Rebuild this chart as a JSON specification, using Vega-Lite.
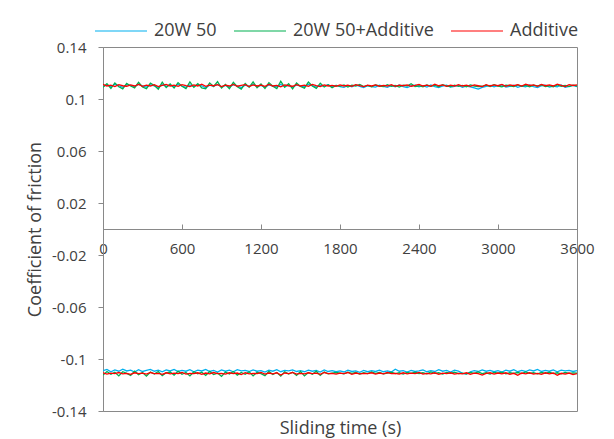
{
  "$schema": "https://vega.github.io/schema/vega-lite/v6.json",
  "width": 474,
  "height": 364,
  "autosize": {"type": "none"},
  "padding": {"left": 103, "top": 47, "right": 37, "bottom": 28},
  "background": "#ffffff",
  "config": {
    "font": "Open Sans",
    "view": {"stroke": "#898989", "strokeWidth": 1},
    "axis": {"labelColor": "#404040", "titleColor": "#404040", "domainColor": "#898989", "tickColor": "#898989", "grid": false, "labelFont": "Open Sans", "titleFont": "Open Sans", "titleFontWeight": "normal"},
    "legend": {"labelFont": "Open Sans"}
  },
  "data": {"values": [
    {"t":0,"b":0.1100,"g":0.1090,"r":0.1112,"bn":-0.1090,"gn":-0.1124,"rn":-0.1106},
    {"t":30,"b":0.1108,"g":0.1118,"r":0.1100,"bn":-0.1080,"gn":-0.1096,"rn":-0.1116},
    {"t":60,"b":0.1095,"g":0.1082,"r":0.1106,"bn":-0.1098,"gn":-0.1118,"rn":-0.1108},
    {"t":90,"b":0.1112,"g":0.1124,"r":0.1096,"bn":-0.1084,"gn":-0.1102,"rn":-0.1112},
    {"t":120,"b":0.1102,"g":0.1094,"r":0.1110,"bn":-0.1094,"gn":-0.1130,"rn":-0.1104},
    {"t":150,"b":0.1090,"g":0.1078,"r":0.1102,"bn":-0.1078,"gn":-0.1098,"rn":-0.1114},
    {"t":180,"b":0.1110,"g":0.1120,"r":0.1098,"bn":-0.1092,"gn":-0.1110,"rn":-0.1110},
    {"t":210,"b":0.1104,"g":0.1100,"r":0.1108,"bn":-0.1086,"gn":-0.1126,"rn":-0.1118},
    {"t":240,"b":0.1096,"g":0.1086,"r":0.1100,"bn":-0.1100,"gn":-0.1094,"rn":-0.1106},
    {"t":270,"b":0.1114,"g":0.1128,"r":0.1112,"bn":-0.1082,"gn":-0.1120,"rn":-0.1112},
    {"t":300,"b":0.1100,"g":0.1092,"r":0.1098,"bn":-0.1096,"gn":-0.1104,"rn":-0.1108},
    {"t":330,"b":0.1092,"g":0.1080,"r":0.1106,"bn":-0.1088,"gn":-0.1132,"rn":-0.1116},
    {"t":360,"b":0.1108,"g":0.1122,"r":0.1100,"bn":-0.1080,"gn":-0.1100,"rn":-0.1104},
    {"t":390,"b":0.1102,"g":0.1104,"r":0.1110,"bn":-0.1094,"gn":-0.1116,"rn":-0.1112},
    {"t":420,"b":0.1088,"g":0.1076,"r":0.1096,"bn":-0.1086,"gn":-0.1096,"rn":-0.1110},
    {"t":450,"b":0.1110,"g":0.1130,"r":0.1104,"bn":-0.1098,"gn":-0.1128,"rn":-0.1118},
    {"t":480,"b":0.1098,"g":0.1088,"r":0.1112,"bn":-0.1084,"gn":-0.1106,"rn":-0.1106},
    {"t":510,"b":0.1106,"g":0.1116,"r":0.1100,"bn":-0.1092,"gn":-0.1100,"rn":-0.1114},
    {"t":540,"b":0.1094,"g":0.1084,"r":0.1106,"bn":-0.1080,"gn":-0.1124,"rn":-0.1108},
    {"t":570,"b":0.1112,"g":0.1126,"r":0.1098,"bn":-0.1096,"gn":-0.1094,"rn":-0.1112},
    {"t":600,"b":0.1100,"g":0.1098,"r":0.1110,"bn":-0.1088,"gn":-0.1118,"rn":-0.1104},
    {"t":630,"b":0.1090,"g":0.1080,"r":0.1102,"bn":-0.1094,"gn":-0.1104,"rn":-0.1116},
    {"t":660,"b":0.1108,"g":0.1132,"r":0.1096,"bn":-0.1082,"gn":-0.1130,"rn":-0.1110},
    {"t":690,"b":0.1096,"g":0.1090,"r":0.1108,"bn":-0.1098,"gn":-0.1098,"rn":-0.1112},
    {"t":720,"b":0.1110,"g":0.1118,"r":0.1100,"bn":-0.1086,"gn":-0.1114,"rn":-0.1106},
    {"t":750,"b":0.1102,"g":0.1086,"r":0.1114,"bn":-0.1092,"gn":-0.1102,"rn":-0.1118},
    {"t":780,"b":0.1086,"g":0.1078,"r":0.1098,"bn":-0.1080,"gn":-0.1126,"rn":-0.1108},
    {"t":810,"b":0.1106,"g":0.1124,"r":0.1106,"bn":-0.1096,"gn":-0.1096,"rn":-0.1114},
    {"t":840,"b":0.1098,"g":0.1096,"r":0.1102,"bn":-0.1088,"gn":-0.1120,"rn":-0.1104},
    {"t":870,"b":0.1112,"g":0.1134,"r":0.1110,"bn":-0.1100,"gn":-0.1108,"rn":-0.1112},
    {"t":900,"b":0.1094,"g":0.1084,"r":0.1096,"bn":-0.1084,"gn":-0.1134,"rn":-0.1110},
    {"t":930,"b":0.1104,"g":0.1112,"r":0.1106,"bn":-0.1094,"gn":-0.1100,"rn":-0.1116},
    {"t":960,"b":0.1092,"g":0.1080,"r":0.1100,"bn":-0.1086,"gn":-0.1116,"rn":-0.1106},
    {"t":990,"b":0.1110,"g":0.1128,"r":0.1112,"bn":-0.1098,"gn":-0.1096,"rn":-0.1112},
    {"t":1020,"b":0.1100,"g":0.1094,"r":0.1098,"bn":-0.1082,"gn":-0.1124,"rn":-0.1108},
    {"t":1050,"b":0.1088,"g":0.1076,"r":0.1104,"bn":-0.1092,"gn":-0.1104,"rn":-0.1120},
    {"t":1080,"b":0.1106,"g":0.1120,"r":0.1110,"bn":-0.1088,"gn":-0.1118,"rn":-0.1106},
    {"t":1110,"b":0.1098,"g":0.1090,"r":0.1096,"bn":-0.1096,"gn":-0.1098,"rn":-0.1114},
    {"t":1140,"b":0.1114,"g":0.1132,"r":0.1108,"bn":-0.1084,"gn":-0.1130,"rn":-0.1110},
    {"t":1170,"b":0.1096,"g":0.1086,"r":0.1100,"bn":-0.1094,"gn":-0.1102,"rn":-0.1112},
    {"t":1200,"b":0.1104,"g":0.1116,"r":0.1106,"bn":-0.1090,"gn":-0.1112,"rn":-0.1104},
    {"t":1230,"b":0.1090,"g":0.1082,"r":0.1098,"bn":-0.1100,"gn":-0.1128,"rn":-0.1116},
    {"t":1260,"b":0.1108,"g":0.1126,"r":0.1112,"bn":-0.1086,"gn":-0.1096,"rn":-0.1108},
    {"t":1290,"b":0.1100,"g":0.1098,"r":0.1100,"bn":-0.1094,"gn":-0.1120,"rn":-0.1114},
    {"t":1320,"b":0.1094,"g":0.1080,"r":0.1104,"bn":-0.1082,"gn":-0.1104,"rn":-0.1106},
    {"t":1350,"b":0.1112,"g":0.1136,"r":0.1094,"bn":-0.1098,"gn":-0.1132,"rn":-0.1124},
    {"t":1380,"b":0.1098,"g":0.1090,"r":0.1108,"bn":-0.1088,"gn":-0.1098,"rn":-0.1108},
    {"t":1410,"b":0.1104,"g":0.1118,"r":0.1102,"bn":-0.1092,"gn":-0.1116,"rn":-0.1112},
    {"t":1440,"b":0.1090,"g":0.1078,"r":0.1098,"bn":-0.1084,"gn":-0.1102,"rn":-0.1104},
    {"t":1470,"b":0.1108,"g":0.1124,"r":0.1110,"bn":-0.1096,"gn":-0.1126,"rn":-0.1116},
    {"t":1500,"b":0.1100,"g":0.1096,"r":0.1100,"bn":-0.1090,"gn":-0.1096,"rn":-0.1110},
    {"t":1530,"b":0.1096,"g":0.1084,"r":0.1106,"bn":-0.1098,"gn":-0.1130,"rn":-0.1114},
    {"t":1560,"b":0.1112,"g":0.1130,"r":0.1098,"bn":-0.1086,"gn":-0.1104,"rn":-0.1106},
    {"t":1590,"b":0.1102,"g":0.1100,"r":0.1112,"bn":-0.1094,"gn":-0.1118,"rn":-0.1112},
    {"t":1620,"b":0.1092,"g":0.1082,"r":0.1102,"bn":-0.1088,"gn":-0.1094,"rn":-0.1108},
    {"t":1650,"b":0.1106,"g":0.1122,"r":0.1096,"bn":-0.1100,"gn":-0.1126,"rn":-0.1118},
    {"t":1680,"b":0.1098,"g":0.1092,"r":0.1108,"bn":-0.1084,"gn":-0.1100,"rn":-0.1104},
    {"t":1710,"b":0.1110,"g":0.1110,"r":0.1100,"bn":-0.1096,"gn":-0.1114,"rn":-0.1112},
    {"t":1740,"b":0.1094,"g":0.1086,"r":0.1104,"bn":-0.1090,"gn":-0.1108,"rn":-0.1110},
    {"t":1770,"b":0.1104,"g":0.1104,"r":0.1098,"bn":-0.1098,"gn":-0.1104,"rn":-0.1116},
    {"t":1800,"b":0.1096,"g":0.1098,"r":0.1108,"bn":-0.1092,"gn":-0.1108,"rn":-0.1108},
    {"t":1830,"b":0.1090,"g":0.1108,"r":0.1100,"bn":-0.1100,"gn":-0.1114,"rn":-0.1112},
    {"t":1860,"b":0.1104,"g":0.1092,"r":0.1106,"bn":-0.1086,"gn":-0.1102,"rn":-0.1104},
    {"t":1890,"b":0.1094,"g":0.1106,"r":0.1098,"bn":-0.1096,"gn":-0.1110,"rn":-0.1118},
    {"t":1920,"b":0.1108,"g":0.1100,"r":0.1110,"bn":-0.1092,"gn":-0.1104,"rn":-0.1108},
    {"t":1950,"b":0.1098,"g":0.1112,"r":0.1102,"bn":-0.1102,"gn":-0.1116,"rn":-0.1114},
    {"t":1980,"b":0.1088,"g":0.1096,"r":0.1096,"bn":-0.1088,"gn":-0.1106,"rn":-0.1110},
    {"t":2010,"b":0.1102,"g":0.1104,"r":0.1106,"bn":-0.1098,"gn":-0.1112,"rn":-0.1112},
    {"t":2040,"b":0.1096,"g":0.1094,"r":0.1100,"bn":-0.1090,"gn":-0.1100,"rn":-0.1106},
    {"t":2070,"b":0.1092,"g":0.1108,"r":0.1108,"bn":-0.1096,"gn":-0.1110,"rn":-0.1116},
    {"t":2100,"b":0.1106,"g":0.1100,"r":0.1098,"bn":-0.1086,"gn":-0.1104,"rn":-0.1108},
    {"t":2130,"b":0.1098,"g":0.1096,"r":0.1104,"bn":-0.1098,"gn":-0.1114,"rn":-0.1114},
    {"t":2160,"b":0.1090,"g":0.1110,"r":0.1100,"bn":-0.1092,"gn":-0.1108,"rn":-0.1104},
    {"t":2190,"b":0.1104,"g":0.1098,"r":0.1110,"bn":-0.1100,"gn":-0.1102,"rn":-0.1112},
    {"t":2220,"b":0.1094,"g":0.1104,"r":0.1098,"bn":-0.1078,"gn":-0.1112,"rn":-0.1110},
    {"t":2250,"b":0.1108,"g":0.1092,"r":0.1106,"bn":-0.1094,"gn":-0.1106,"rn":-0.1116},
    {"t":2280,"b":0.1096,"g":0.1106,"r":0.1102,"bn":-0.1090,"gn":-0.1116,"rn":-0.1106},
    {"t":2310,"b":0.1088,"g":0.1100,"r":0.1108,"bn":-0.1100,"gn":-0.1104,"rn":-0.1114},
    {"t":2340,"b":0.1100,"g":0.1118,"r":0.1098,"bn":-0.1088,"gn":-0.1110,"rn":-0.1108},
    {"t":2370,"b":0.1106,"g":0.1096,"r":0.1104,"bn":-0.1096,"gn":-0.1102,"rn":-0.1112},
    {"t":2400,"b":0.1094,"g":0.1102,"r":0.1112,"bn":-0.1092,"gn":-0.1112,"rn":-0.1104},
    {"t":2430,"b":0.1102,"g":0.1094,"r":0.1100,"bn":-0.1084,"gn":-0.1106,"rn":-0.1116},
    {"t":2460,"b":0.1092,"g":0.1108,"r":0.1106,"bn":-0.1098,"gn":-0.1114,"rn":-0.1110},
    {"t":2490,"b":0.1108,"g":0.1098,"r":0.1098,"bn":-0.1090,"gn":-0.1100,"rn":-0.1114},
    {"t":2520,"b":0.1096,"g":0.1106,"r":0.1114,"bn":-0.1096,"gn":-0.1110,"rn":-0.1106},
    {"t":2550,"b":0.1088,"g":0.1094,"r":0.1102,"bn":-0.1082,"gn":-0.1106,"rn":-0.1118},
    {"t":2580,"b":0.1100,"g":0.1110,"r":0.1108,"bn":-0.1094,"gn":-0.1116,"rn":-0.1108},
    {"t":2610,"b":0.1106,"g":0.1100,"r":0.1098,"bn":-0.1088,"gn":-0.1104,"rn":-0.1112},
    {"t":2640,"b":0.1092,"g":0.1096,"r":0.1106,"bn":-0.1100,"gn":-0.1110,"rn":-0.1106},
    {"t":2670,"b":0.1098,"g":0.1106,"r":0.1100,"bn":-0.1086,"gn":-0.1102,"rn":-0.1116},
    {"t":2700,"b":0.1104,"g":0.1098,"r":0.1110,"bn":-0.1094,"gn":-0.1112,"rn":-0.1110},
    {"t":2730,"b":0.1090,"g":0.1104,"r":0.1100,"bn":-0.1110,"gn":-0.1108,"rn":-0.1114},
    {"t":2760,"b":0.1100,"g":0.1094,"r":0.1106,"bn":-0.1116,"gn":-0.1114,"rn":-0.1106},
    {"t":2790,"b":0.1094,"g":0.1108,"r":0.1098,"bn":-0.1098,"gn":-0.1104,"rn":-0.1118},
    {"t":2820,"b":0.1086,"g":0.1100,"r":0.1108,"bn":-0.1090,"gn":-0.1110,"rn":-0.1108},
    {"t":2850,"b":0.1076,"g":0.1096,"r":0.1102,"bn":-0.1096,"gn":-0.1100,"rn":-0.1112},
    {"t":2880,"b":0.1090,"g":0.1098,"r":0.1096,"bn":-0.1084,"gn":-0.1112,"rn":-0.1124},
    {"t":2910,"b":0.1098,"g":0.1106,"r":0.1110,"bn":-0.1094,"gn":-0.1106,"rn":-0.1110},
    {"t":2940,"b":0.1104,"g":0.1096,"r":0.1100,"bn":-0.1088,"gn":-0.1116,"rn":-0.1106},
    {"t":2970,"b":0.1094,"g":0.1110,"r":0.1108,"bn":-0.1098,"gn":-0.1104,"rn":-0.1116},
    {"t":3000,"b":0.1102,"g":0.1100,"r":0.1102,"bn":-0.1090,"gn":-0.1108,"rn":-0.1108},
    {"t":3030,"b":0.1108,"g":0.1094,"r":0.1112,"bn":-0.1100,"gn":-0.1102,"rn":-0.1114},
    {"t":3060,"b":0.1092,"g":0.1106,"r":0.1098,"bn":-0.1086,"gn":-0.1114,"rn":-0.1106},
    {"t":3090,"b":0.1098,"g":0.1102,"r":0.1108,"bn":-0.1094,"gn":-0.1106,"rn":-0.1118},
    {"t":3120,"b":0.1106,"g":0.1096,"r":0.1102,"bn":-0.1082,"gn":-0.1110,"rn":-0.1110},
    {"t":3150,"b":0.1090,"g":0.1108,"r":0.1110,"bn":-0.1098,"gn":-0.1104,"rn":-0.1126},
    {"t":3180,"b":0.1100,"g":0.1098,"r":0.1100,"bn":-0.1088,"gn":-0.1112,"rn":-0.1108},
    {"t":3210,"b":0.1094,"g":0.1104,"r":0.1114,"bn":-0.1096,"gn":-0.1100,"rn":-0.1114},
    {"t":3240,"b":0.1108,"g":0.1094,"r":0.1104,"bn":-0.1084,"gn":-0.1110,"rn":-0.1106},
    {"t":3270,"b":0.1096,"g":0.1106,"r":0.1108,"bn":-0.1092,"gn":-0.1106,"rn":-0.1116},
    {"t":3300,"b":0.1088,"g":0.1100,"r":0.1098,"bn":-0.1080,"gn":-0.1114,"rn":-0.1110},
    {"t":3330,"b":0.1102,"g":0.1108,"r":0.1112,"bn":-0.1096,"gn":-0.1104,"rn":-0.1118},
    {"t":3360,"b":0.1106,"g":0.1096,"r":0.1102,"bn":-0.1088,"gn":-0.1110,"rn":-0.1106},
    {"t":3390,"b":0.1092,"g":0.1102,"r":0.1108,"bn":-0.1094,"gn":-0.1102,"rn":-0.1114},
    {"t":3420,"b":0.1100,"g":0.1094,"r":0.1100,"bn":-0.1084,"gn":-0.1112,"rn":-0.1108},
    {"t":3450,"b":0.1094,"g":0.1108,"r":0.1114,"bn":-0.1098,"gn":-0.1106,"rn":-0.1126},
    {"t":3480,"b":0.1108,"g":0.1098,"r":0.1104,"bn":-0.1086,"gn":-0.1114,"rn":-0.1110},
    {"t":3510,"b":0.1090,"g":0.1104,"r":0.1096,"bn":-0.1092,"gn":-0.1104,"rn":-0.1116},
    {"t":3540,"b":0.1098,"g":0.1096,"r":0.1110,"bn":-0.1088,"gn":-0.1110,"rn":-0.1108},
    {"t":3570,"b":0.1104,"g":0.1106,"r":0.1104,"bn":-0.1096,"gn":-0.1106,"rn":-0.1120},
    {"t":3600,"b":0.1096,"g":0.1100,"r":0.1108,"bn":-0.1090,"gn":-0.1108,"rn":-0.1112}
  ]},
  "transform": [
    {"fold": ["b", "g", "r", "bn", "gn", "rn"], "as": ["key", "cof"]},
    {"lookup": "key", "from": {"data": {"values": [
      {"key": "b", "series": "20W 50"},
      {"key": "g", "series": "20W 50+Additive"},
      {"key": "r", "series": "Additive"},
      {"key": "bn", "series": "20W 50"},
      {"key": "gn", "series": "20W 50+Additive"},
      {"key": "rn", "series": "Additive"}
    ]}, "key": "key", "fields": ["series"]}}
  ],
  "mark": {"type": "line", "strokeWidth": 1.3, "clip": true},
  "encoding": {
    "x": {
      "field": "t", "type": "quantitative",
      "scale": {"domain": [0, 3600], "nice": false, "zero": false},
      "axis": {
        "values": [0, 600, 1200, 1800, 2400, 3000, 3600],
        "format": "d",
        "offset": -182,
        "tickSize": -5,
        "labelPadding": 17,
        "labelFontSize": 15,
        "labelFlush": false,
        "title": "Sliding time (s)",
        "titleFontSize": 18,
        "titleY": 199,
        "titleBaseline": "middle"
      }
    },
    "y": {
      "field": "cof", "type": "quantitative",
      "scale": {"domain": [-0.14, 0.14], "nice": false, "zero": false},
      "axis": {
        "values": [-0.14, -0.1, -0.06, -0.02, 0.02, 0.06, 0.1, 0.14],
        "labelExpr": "replace(format(datum.value, '.2~f'), '−', '-')",
        "tickSize": 5,
        "labelPadding": 12,
        "labelFontSize": 15,
        "title": "Coefficient of friction",
        "titleFontSize": 18,
        "titleX": -68,
        "titleY": 182,
        "titleBaseline": "middle",
        "titleAlign": "center",
        "titleAngle": -90
      }
    },
    "color": {
      "field": "series", "type": "nominal",
      "scale": {"domain": ["20W 50", "20W 50+Additive", "Additive"], "range": ["#00b0f0", "#00b050", "#ff0000"]},
      "legend": {
        "title": null,
        "orient": "none",
        "direction": "horizontal",
        "legendX": -9,
        "legendY": -43,
        "symbolType": "stroke",
        "symbolSize": 2704,
        "symbolStrokeWidth": 1.2,
        "labelFontSize": 18,
        "labelColor": "#404040",
        "labelOffset": 6,
        "columnPadding": 14
      }
    },
    "detail": {"field": "key", "type": "nominal"}
  }
}
